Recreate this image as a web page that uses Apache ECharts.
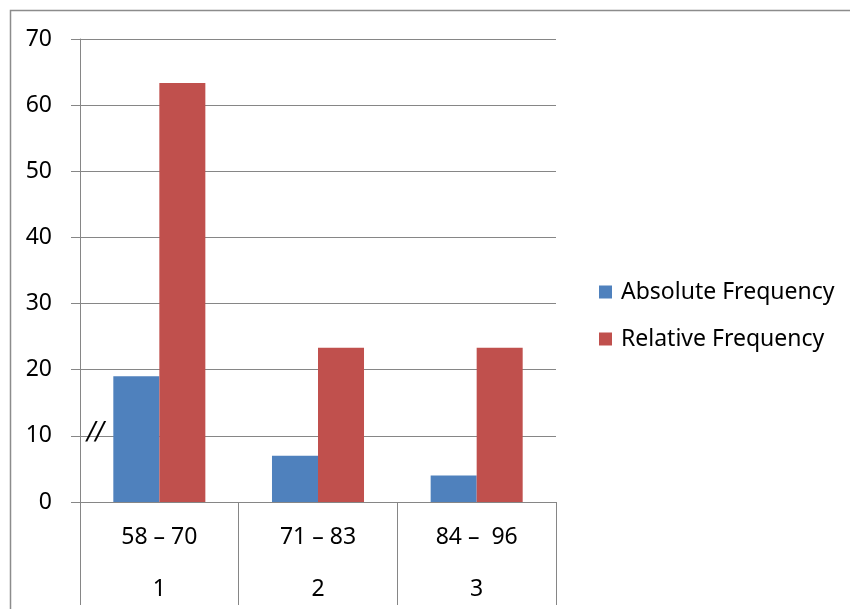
<!DOCTYPE html>
<html>
<head>
<meta charset="utf-8">
<script src="https://cdn.jsdelivr.net/npm/echarts@6/dist/echarts.min.js"></script>
<style>html,body{margin:0;padding:0;background:#fff;}#c{width:850px;height:609px;}</style>
</head>
<body>
<div id="c"></div>
<script>
var rangeLabels = ['58 – 70', '71 – 83', '84 –  96'];
var indexLabels = ['1', '2', '3'];
var absoluteFreq = [19, 7, 4];
var relativeFreq = [63.33, 23.33, 23.33];
var yTicks = [0, 10, 20, 30, 40, 50, 60, 70];

var FONT = 'Noto Sans';
var FS = 23;
var chart = echarts.init(document.getElementById('c'));
var cats = rangeLabels.map(function (r, i) { return r + '|' + indexLabels[i]; });
chart.setOption({
  animation: false,
  backgroundColor: '#fff',
  textStyle: { fontFamily: FONT },
  grid: { left: 80, right: 294, top: 39, bottom: 107, containLabel: false, outerBoundsMode: 'none' },
  legend: {
    orient: 'vertical',
    left: 599, top: 279,
    padding: 0,
    itemWidth: 13, itemHeight: 13,
    itemGap: 21,
    icon: 'rect',
    textStyle: { fontFamily: FONT, fontSize: FS, color: '#000', lineHeight: 26, padding: [0, 0, 0, 4] },
    data: ['Absolute Frequency', 'Relative Frequency']
  },
  xAxis: {
    type: 'category',
    data: cats,
    boundaryGap: true,
    axisLine: { show: true, lineStyle: { color: '#868686', width: 1 } },
    axisTick: { show: true, length: 103, lineStyle: { color: '#868686' } },
    axisLabel: {
      margin: 9,
      interval: 0,
      formatter: function (v) {
        var p = v.split('|');
        return '{a|' + p[0] + '}\n{b|' + p[1] + '}';
      },
      rich: {
        a: { fontFamily: FONT, fontSize: FS, color: '#000', lineHeight: 52, height: 52 },
        b: { fontFamily: FONT, fontSize: FS, color: '#000', lineHeight: 52, height: 52 }
      }
    },
    splitLine: { show: false }
  },
  yAxis: {
    type: 'value',
    min: yTicks[0], max: yTicks[yTicks.length - 1], interval: 10,
    axisLine: { show: true, lineStyle: { color: '#868686' } },
    axisTick: { show: true, length: 9, lineStyle: { color: '#868686' } },
    axisLabel: { margin: 28, fontFamily: FONT, fontSize: FS, color: '#000' },
    splitLine: { show: true, lineStyle: { color: '#868686', width: 1 } }
  },
  series: [
    { name: 'Absolute Frequency', type: 'bar', data: absoluteFreq, barGap: '0%', barCategoryGap: '42%',
      itemStyle: { color: '#4F81BD' } },
    { name: 'Relative Frequency', type: 'bar', data: relativeFreq, barGap: '0%', barCategoryGap: '42%',
      itemStyle: { color: '#C0504D' } }
  ],
  graphic: [
    { type: 'rect', shape: { x: 10.5, y: 10.5, width: 900, height: 700 },
      style: { fill: 'none', stroke: '#8c8c8c', lineWidth: 1.5 }, silent: true, z: -1 },
    { type: 'text', x: 87, y: 420, style: { text: '//', fontFamily: 'DejaVu Sans', fontSize: 25, fontStyle: 'italic', fill: '#000' }, z: 10 }
  ]
});
</script>
</body>
</html>
